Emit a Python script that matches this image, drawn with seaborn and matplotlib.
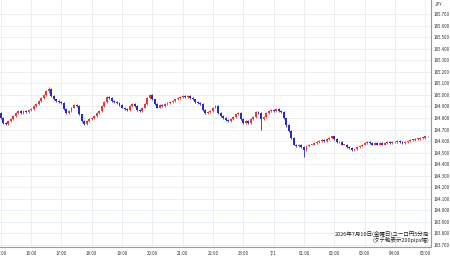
import numpy as np
import pandas as pd
import seaborn as sns
import matplotlib.pyplot as plt

# ユーロ円 5分足 終値 (15:00 から 05:10 まで)
closes = [
    184.80, 184.76, 184.75, 184.77, 184.79, 184.82, 184.84, 184.86, 184.84, 184.86, 184.85, 184.87,
    184.88, 184.90, 184.92, 184.95, 184.97, 185.00, 185.03, 185.05, 184.99, 184.96, 184.95, 184.94,
    184.93, 184.88, 184.84, 184.86, 184.89, 184.91, 184.90, 184.83, 184.77, 184.75, 184.77, 184.79,
    184.80, 184.82, 184.84, 184.86, 184.90, 184.94, 184.98, 184.97, 184.95, 184.94, 184.93, 184.91,
    184.89, 184.88, 184.87, 184.90, 184.92, 184.90, 184.87, 184.86, 184.89, 184.92, 184.97, 185.00,
    184.96, 184.92, 184.89, 184.91, 184.90, 184.92, 184.93, 184.94, 184.95, 184.96, 184.97, 184.98,
    184.99, 184.98, 184.99, 184.97, 184.96, 184.94, 184.93, 184.92, 184.87, 184.84, 184.85, 184.86,
    184.89, 184.90, 184.84, 184.82, 184.80, 184.78, 184.77, 184.79, 184.81, 184.83, 184.84, 184.79,
    184.76, 184.77, 184.76, 184.79, 184.81, 184.85, 184.84, 184.79, 184.81, 184.84, 184.86, 184.87,
    184.86, 184.88, 184.86, 184.85, 184.80, 184.74, 184.69, 184.63, 184.57, 184.56, 184.57, 184.55,
    184.52, 184.56, 184.57, 184.57, 184.58, 184.59, 184.60, 184.61, 184.60, 184.62, 184.63, 184.64,
    184.62, 184.59, 184.59, 184.57, 184.57, 184.55, 184.54, 184.52, 184.53, 184.55, 184.56, 184.57,
    184.58, 184.59, 184.58, 184.57, 184.58, 184.57, 184.58, 184.57, 184.58, 184.59, 184.58, 184.59,
    184.59, 184.60, 184.59, 184.58, 184.59, 184.60, 184.61, 184.61, 184.62, 184.62, 184.63, 184.63,
    184.64, 184.64,
]
first_open = 184.84
# 目立つヒゲ (足の番号, 高値, 安値)
wicks = [(19, 185.07, 185.02), (103, 184.85, 184.70), (120, 184.56, 184.46), (113, 184.80, 184.72)]

hour_labels = ["15:00", "16:00", "17:00", "18:00", "19:00", "20:00", "21:00", "22:00",
               "23:00", "7/1", "01:00", "02:00", "03:00", "04:00", "05:00"]
price_ticks = [183.7, 183.8, 183.9, 184.0, 184.1, 184.2, 184.3, 184.4, 184.5,
               184.6, 184.7, 184.8, 184.9, 185.0, 185.1, 185.2, 185.3, 185.4,
               185.5, 185.6, 185.7]

df = pd.DataFrame({"close": closes})
df["open"] = [first_open] + closes[:-1]
df["high"] = df[["open", "close"]].max(axis=1) + 0.008
df["low"] = df[["open", "close"]].min(axis=1) - 0.008
for i, h, l in wicks:
    df.loc[i, "high"] = h
    df.loc[i, "low"] = l
df["up"] = df["close"] >= df["open"]

sns.set_style("white")
plt.rcParams["font.family"] = ["Noto Sans CJK JP", "DejaVu Sans"]

fig = plt.figure(figsize=(4.5, 2.58), dpi=100)
ax = fig.add_axes([0, 11 / 258, 431 / 450, 247 / 258])

red = "#e03a3a"
blue = "#2a2ac8"
colors = np.where(df["up"], red, blue)
x = df.index.values
ax.vlines(x, df["low"], df["high"], colors=colors, linewidth=0.6, zorder=3)
body_h = (df["close"] - df["open"]).abs().clip(lower=0.004)
ax.bar(x, body_h, bottom=df[["open", "close"]].min(axis=1), width=0.75,
       color=colors, linewidth=0, zorder=4)

ax.set_xlim(-0.3, 170.3)
ax.set_ylim(183.683, 185.821)

ax.set_xticks([12 * k for k in range(len(hour_labels))])
ax.set_xticklabels(hour_labels)
ax.set_yticks(price_ticks)
ax.set_yticklabels([f"{p:.3f}" for p in price_ticks])
ax.yaxis.tick_right()
ax.tick_params(axis="both", length=0, labelsize=3.2, colors="#333333")
ax.tick_params(axis="y", pad=1.8)
ax.tick_params(axis="x", pad=3)

ax.grid(True, color="#e6edf3", linewidth=0.6, zorder=0)
for s in ["top", "left"]:
    ax.spines[s].set_visible(False)
for s in ["right", "bottom"]:
    ax.spines[s].set_color("#9a9a9a")
    ax.spines[s].set_linewidth(0.8)

fig.text(435 / 450, 1 - 5 / 258, "JPY", fontsize=3.2, color="#333333", va="center")
ax.text(169.5, 183.80, "2026年7月10日(金曜日)ユーロ円5分足", ha="right", va="center",
        fontsize=4, color="#222222")
ax.text(169.5, 183.745, "(タテ軸表示200pips幅)", ha="right", va="center",
        fontsize=4, color="#222222")

fig.savefig("out.png", dpi=100)
